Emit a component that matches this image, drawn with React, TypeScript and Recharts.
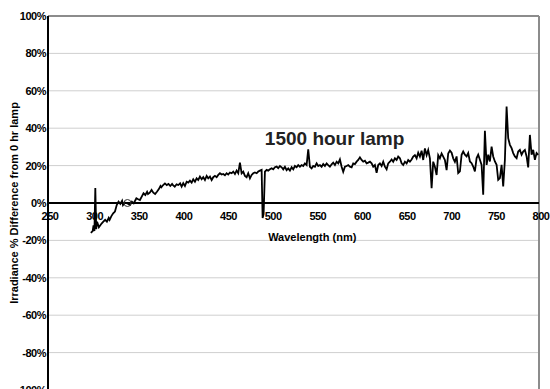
import { CartesianGrid, Label, Line, LineChart, ReferenceDot, ReferenceLine, XAxis, YAxis } from 'recharts';

const FONT = '"Liberation Sans", Arial, Helvetica, sans-serif';
const CHART_W = 550;
const CHART_H = 392;

const xTicks = [250, 300, 350, 400, 450, 500, 550, 600, 650, 700, 750, 800];
const yTicks = [-100, -80, -60, -40, -20, 0, 20, 40, 60, 80, 100];

const seriesLabel = '1500 hour lamp';
const xTitle = 'Wavelength (nm)';
const yTitle = 'Irradiance % Difference from 0 hr lamp';

// [wavelength nm, % difference]
const uvRange: [number, number][] = [
  [298, -16], [300, -15], [301, -12], [302, -15], [303, 8], [304, -14], [305, -10], [307, -13],
  [310, -11], [312, -10], [314, -9], [316, -10], [318, -8], [319, -9], [321, -7], [323, -5.5],
  [325, -4.6], [327, -1.1], [329, 0.7], [331, -0.5], [333, 1.2], [334, -1.1], [336, 0.2], [339, -0.2],
  [342, -1], [344, 0.7], [346, -0.2], [348, 1.6], [349, 2.5], [351, 2], [353, 1.6], [355, 3.4],
  [357, 5.2], [359, 4.3], [361, 6], [362, 4.8], [364, 5.5], [366, 7], [368, 5.5], [370, 4.8],
  [372, 6], [374, 7.3], [376, 9.1], [377, 8.4], [379, 9.6], [381, 10.5], [383, 9.6], [385, 10.2],
  [387, 9.1], [389, 10.2], [390, 9.6], [392, 8.7], [394, 10], [396, 9.6], [398, 10.5],
];

const blueRange: [number, number][] = [
  [399.7, 8.8], [401.5, 10.6], [403.4, 9.1], [405.3, 11.4], [407.1, 10.9], [409, 12], [410.9, 10.9],
  [412.7, 12.7], [414.6, 11.4], [416.5, 13.2], [418.3, 12.3], [420.2, 14.1], [422.1, 12.7], [423.9, 13.8],
  [425.8, 12.3], [427.7, 14.5], [429.5, 13.2], [431.4, 14.1], [433.3, 12.3], [435.1, 13.8], [437, 14.5],
  [438.9, 13.8], [440.7, 15], [442.6, 15.9], [444.5, 15.2], [446.3, 15.5], [448.2, 14.8], [450.1, 15.9],
  [451.9, 15.2], [453.8, 16.3], [455.7, 15.9], [457.5, 16.8], [459.4, 15.5], [461.3, 17.3], [463.1, 15.9],
  [465, 21.6], [466.9, 15.9], [468.7, 16.8], [470.6, 14.5], [472.5, 13.8], [474.3, 15.9], [476.2, 13.2],
  [478.1, 15], [479.9, 15.9], [481.8, 16.3], [483.7, 15.9], [485.5, 16.8], [487.4, 17.3], [489.3, 17.7],
  [490.4, -8], [491.5, -6], [493, 16.8], [494.9, 17.7], [496.7, 17.3], [498.6, 18], [500.5, 18.6],
  [502.3, 18], [504.2, 19.1], [506.1, 19.5], [507.9, 18.6], [509.8, 19.8],
];

const greenRange: [number, number][] = [
  [511.7, 19.1], [513.5, 18], [515.4, 19.4], [517.3, 17.6], [519.1, 18.5], [521, 17.3], [522.9, 19.1],
  [524.7, 18], [526.6, 19.8], [528.5, 19.1], [530.3, 20.3], [532.2, 19.4], [534.1, 20.3], [535.9, 19.8],
  [537.8, 21.2], [539.7, 20.3], [541.5, 28.7], [543.4, 19.4], [545.3, 18.5], [547.1, 19.8], [549, 19.4],
  [550.9, 21.2], [552.7, 19.8], [554.6, 20.3], [556.5, 19.4], [558.3, 20.8], [560.2, 19.8], [562.1, 21.2],
  [563.9, 20.3], [565.8, 19.4], [567.7, 20.7], [569.5, 21.6], [571.4, 20.3], [573.3, 22.1], [575.1, 21.2],
  [577, 23.3], [578.9, 19.4], [580.7, 16.7], [582.6, 19.4], [584.5, 19.8], [586.3, 20.3], [588.2, 19.4],
  [590.1, 19.1], [591.9, 21.2], [593.8, 20.8], [595.7, 22.1], [597.5, 23], [599.4, 24.4], [601.3, 23],
  [603.1, 22.1], [605, 22.6], [606.9, 21.2], [608.7, 21.6],
];

const redRange: [number, number][] = [
  [610.6, 22.1], [612.5, 21.2], [614.3, 19.4], [616.2, 20.3], [618.1, 16.2], [619.9, 20.3], [621.8, 21.2],
  [623.7, 19.8], [625.5, 22.1], [627.4, 19.4], [629.3, 18], [631.1, 21.2], [633, 22.1], [634.9, 23.3],
  [636.7, 22.1], [638.6, 23.9], [640.5, 23], [642.3, 24.8], [644.2, 23.9], [646.1, 21.2], [647.9, 20.3],
  [649.8, 22.1], [651.7, 21.2], [653.5, 23], [655.4, 22.1], [657.3, 23.3], [659.1, 24.8], [661, 25.6],
  [662.9, 23.9], [664.7, 26.9], [666.6, 24.8], [668.5, 28], [670.3, 23], [672.2, 29.2], [674.1, 25.6],
  [675.9, 28.3], [677.8, 23.9], [679.7, 7.9], [681.5, 22.1], [683.4, 19.4], [685.3, 15], [687.1, 25.6],
  [689, 23.9], [690.9, 26.5], [692.7, 24.8], [694.6, 23], [696.5, 17.6], [698.3, 26.5], [700.2, 28],
  [702.1, 26.9], [703.9, 23.9],
];

const nirRange: [number, number][] = [
  [705.8, 22], [707.7, 24.9], [709.5, 16], [711.4, 16.9], [713.3, 25.8], [715.1, 27.5], [717, 25.8],
  [718.9, 24.9], [720.7, 26.7], [722.6, 22.2], [724.5, 21.3], [726.3, 19.5], [728.2, 16.9], [730.1, 24],
  [731.9, 25.8], [733.8, 23.1], [735.7, 20.4], [737.5, 4.4], [739.4, 38.6], [741.3, 20.4], [743.1, 25.8],
  [745, 22.2], [746.9, 30.2], [748.7, 24.9], [750.6, 22.2], [752.5, 20.4], [754.3, 12.4], [756.2, 13.3],
  [758.1, 20.4], [759.9, 8.9], [761.8, 23.1], [763.7, 51.6], [765.5, 34.7], [767.4, 31.1], [769.3, 29.3],
  [771.1, 26.7], [773, 24.9], [774.9, 24], [776.7, 27.5], [778.6, 28.4], [780.5, 25.8], [782.3, 27.5],
  [784.2, 28.4], [786.1, 24.9], [787.9, 19], [789.8, 36.4], [791.7, 25.8], [793.5, 28.4], [795.4, 23.1],
  [797.3, 26.7], [799.1, 25.8],
];

const data = [...uvRange, ...blueRange, ...greenRange, ...redRange, ...nirRange].map(([wl, pct]) => ({ wl, pct }));

const boldText = { fontFamily: FONT, fontWeight: 700, fill: '#000' };

export default function App() {
  return (
    <div style={{ position: 'absolute', left: 0, top: 0, background: '#fff' }}>
      <LineChart width={CHART_W} height={CHART_H} data={data} margin={{ top: 16, right: 11, bottom: 2, left: 0 }}>
        <CartesianGrid stroke="#cfcfcf" strokeWidth={1} />
        <XAxis
          dataKey="wl"
          type="number"
          domain={[250, 800]}
          ticks={xTicks}
          tick={false}
          axisLine={false}
          tickLine={false}
          height={0}
        />
        <YAxis
          type="number"
          domain={[-100, 100]}
          ticks={yTicks}
          interval={0}
          width={48}
          tickSize={0}
          tickMargin={2}
          axisLine={{ stroke: '#000', strokeWidth: 2 }}
          tickFormatter={(v: number) => `${v}%`}
          tick={{ ...boldText, fontSize: 11, letterSpacing: -0.5 }}
        >
          <Label
            content={({ viewBox }: any) => {
              const cx = viewBox.x + 14;
              const cy = viewBox.y + viewBox.height / 2;
              return (
                <text
                  x={cx}
                  y={cy}
                  transform={`rotate(-90 ${cx} ${cy})`}
                  textAnchor="middle"
                  dominantBaseline="central"
                  style={{ ...boldText, fontSize: 11 }}
                >
                  {yTitle}
                </text>
              );
            }}
          />
        </YAxis>
        <ReferenceLine y={100} stroke="#8c8c8c" strokeWidth={2} />
        <ReferenceLine y={-100} stroke="#8c8c8c" strokeWidth={2} />
        <ReferenceLine x={800} stroke="#8c8c8c" strokeWidth={2} />
        <ReferenceLine y={0} stroke="#000" strokeWidth={2} />
        {xTicks.map((t) => (
          <ReferenceDot
            key={t}
            x={t}
            y={0}
            r={0}
            shape={(p: any) => (
              <text x={p.cx + 2} y={p.cy + 17} textAnchor="middle" style={{ ...boldText, fontSize: 11, letterSpacing: -0.5 }}>
                {t}
              </text>
            )}
          />
        ))}
        <ReferenceDot
          x={546}
          y={0}
          r={0}
          shape={(p: any) => (
            <text x={p.cx} y={p.cy + 38} textAnchor="middle" style={{ ...boldText, fontSize: 11 }}>
              {xTitle}
            </text>
          )}
        />
        <Line type="linear" dataKey="pct" stroke="#000" strokeWidth={1.8} dot={false} isAnimationActive={false} />
        <ReferenceDot x={339} y={0} r={3.5} fill="none" stroke="#333" strokeWidth={1} />
        <ReferenceDot
          x={571}
          y={31}
          r={0}
          shape={(p: any) => (
            <text x={p.cx} y={p.cy} textAnchor="middle" style={{ ...boldText, fill: '#222', fontSize: 19 }}>
              {seriesLabel}
            </text>
          )}
        />
      </LineChart>
    </div>
  );
}
